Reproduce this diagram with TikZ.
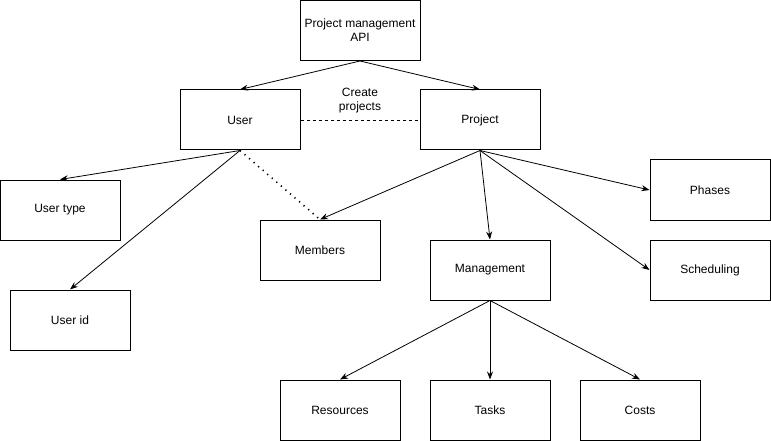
\documentclass[tikz,border=0pt]{standalone}
\usepackage{fontspec}
\setmainfont{Liberation Sans}
\usetikzlibrary{arrows.meta}

\begin{document}
\begin{tikzpicture}
[x=1pt,y=-1pt,>={Stealth[length=8pt,width=6pt]},
 box/.style={draw,line width=1pt,minimum width=120pt,minimum height=60pt,inner sep=0pt,font=\fontsize{12}{14}\selectfont,align=center},
 link/.style={->,line width=0.8pt}]

% the frame
\useasboundingbox (0,0) rectangle (771,441);

% the boxes
\node[box] (api) at (360,30.5) {Project management\\API};
\node[box] (user) at (240,120) {User};
\node[box] (project) at (480,120) {Project};
\node[box] (usertype) at (60,210) {User type};
\node[box] (userid) at (70,320) {User id};
\node[box] (members) at (320,250) {Members};
\node[box] (management) at (490,270) {Management};
\node[box] (phases) at (710,190) {Phases};
\node[box] (scheduling) at (710,270) {Scheduling};
\node[box] (resources) at (340,410) {Resources};
\node[box] (tasks) at (490,410) {Tasks};
\node[box] (costs) at (640,410) {Costs};

% the arrows
\draw[link] (api.south) -- (user.north);
\draw[link] (api.south) -- (project.north);
\draw[link] (user.south) -- (usertype.north);
\draw[link] (user.south) -- (userid.north);
\draw[link] (project.south) -- (members.north);
\draw[link] (project.south) -- (management.north);
\draw[link] (project.south) -- (phases.west);
\draw[link] (project.south) -- (scheduling.west);
\draw[link] (management.south) -- (resources.north);
\draw[link] (management.south) -- (tasks.north);
\draw[link] (management.south) -- (costs.north);

% the other lines
\draw[line width=0.8pt,dash pattern=on 3pt off 3pt] (user.east) -- node[above=3pt,font=\fontsize{12}{14}\selectfont,align=center] {Create\\projects} (project.west);
\draw[line width=1.6pt,dash pattern=on 1.2pt off 4.8pt] (user.south) -- (members.north);

\end{tikzpicture}
\end{document}
